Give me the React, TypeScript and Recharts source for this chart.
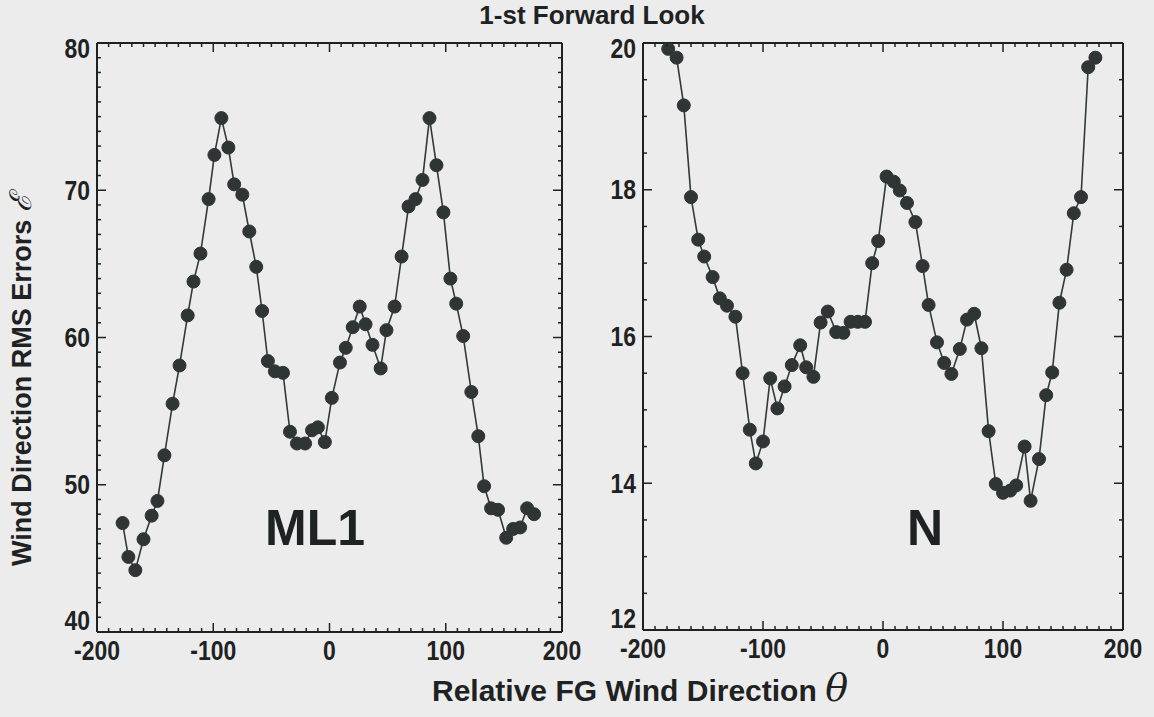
import { LineChart, Line, XAxis, YAxis } from "recharts";

// left panel (ML1)
const leftTheta = [-178, -173, -167, -160, -153, -148, -142, -135, -129, -122, -117, -111, -104, -99, -93, -87, -82, -75, -69, -63, -58, -53, -47, -40, -34, -28, -21, -15, -10, -4, 2, 9, 14, 20, 26, 31, 37, 44, 49, 56, 62, 68, 74, 80, 86, 92, 98, 104, 109, 115, 122, 128, 133, 139, 145, 152, 158, 164, 170, 176];
const leftErr = [47.4, 45.1, 44.2, 46.3, 47.9, 48.9, 52.0, 55.5, 58.1, 61.5, 63.8, 65.7, 69.4, 72.4, 74.9, 72.9, 70.4, 69.7, 67.2, 64.8, 61.8, 58.4, 57.7, 57.6, 53.6, 52.8, 52.8, 53.7, 53.9, 52.9, 55.9, 58.3, 59.3, 60.7, 62.1, 60.9, 59.5, 57.9, 60.5, 62.1, 65.5, 68.9, 69.4, 70.7, 74.9, 71.7, 68.5, 64.0, 62.3, 60.1, 56.3, 53.3, 49.9, 48.4, 48.3, 46.4, 47.0, 47.1, 48.4, 48.0];

// right panel (N)
const rightTheta = [-179, -172, -166, -160, -154, -149, -142, -136, -130, -123, -117, -111, -106, -100, -94, -88, -82, -76, -69, -64, -58, -52, -46, -39, -33, -27, -21, -15, -9, -4, 3, 9, 14, 20, 27, 33, 38, 45, 51, 57, 64, 70, 76, 82, 88, 94, 100, 106, 111, 118, 123, 130, 136, 141, 147, 153, 159, 165, 171, 177];
const rightErr = [19.92, 19.8, 19.15, 17.9, 17.32, 17.09, 16.81, 16.52, 16.42, 16.27, 15.5, 14.73, 14.27, 14.57, 15.43, 15.02, 15.32, 15.61, 15.88, 15.58, 15.45, 16.19, 16.34, 16.06, 16.05, 16.2, 16.2, 16.2, 17.0, 17.3, 18.18, 18.11, 17.99, 17.82, 17.56, 16.96, 16.43, 15.92, 15.64, 15.49, 15.83, 16.23, 16.31, 15.84, 14.71, 13.99, 13.87, 13.9, 13.97, 14.5, 13.76, 14.33, 15.2, 15.51, 16.46, 16.91, 17.68, 17.9, 19.67, 19.8];

const xMajor = [-200, -100, 0, 100, 200];
const leftYMajor = [40, 50, 60, 70, 80];
const rightYMajor = [12, 14, 16, 18, 20];

const range = (a: number, b: number, step: number) => {
  const out: number[] = [];
  for (let v = a; v <= b + 1e-9; v += step) out.push(Math.round(v * 100) / 100);
  return out;
};

const xMinor = range(-200, 200, 10);
const leftYMinor = range(40, 80, 1);
const rightYMinor = range(12, 20, 0.5);

const INK = "#1e2222";
const DOT = "#2f3535";
const TICK_FONT = "'Liberation Sans', Arial, sans-serif";

const isMajor = (v: number, majors: number[]) => majors.some((m) => Math.abs(m - v) < 1e-6);

function makeTick(side: "bottom" | "top" | "left" | "right", majors: number[]) {
  const lo = Math.min(...majors);
  const hi = Math.max(...majors);
  return (props: any) => {
    const { x, y, payload } = props;
    const v = payload.value;
    const major = isMajor(v, majors);
    const len = major ? 9 : 4;
    if (side === "bottom") {
      return (
        <g>
          <line x1={x} y1={y} x2={x} y2={y - len} stroke={INK} strokeWidth={1.5} />
          {major && (
            <text
              transform={`translate(${x},${y + 8}) scale(0.85,1)`}
              textAnchor="middle"
              dominantBaseline="hanging"
              fontFamily={TICK_FONT}
              fontWeight="bold"
              fontSize={27}
              fill={INK}
            >
              {v}
            </text>
          )}
        </g>
      );
    }
    if (side === "top") {
      return <line x1={x} y1={y} x2={x} y2={y + len} stroke={INK} strokeWidth={1.5} />;
    }
    if (side === "left") {
      // end labels are nudged inside the axis span, as in the original figure
      const dy = v === lo ? -12 : v === hi ? 5 : 0;
      return (
        <g>
          <line x1={x} y1={y} x2={x + len} y2={y} stroke={INK} strokeWidth={1.5} />
          {major && (
            <text
              transform={`translate(${x - 7},${y + dy}) scale(0.85,1)`}
              textAnchor="end"
              dominantBaseline="central"
              fontFamily={TICK_FONT}
              fontWeight="bold"
              fontSize={27}
              fill={INK}
            >
              {v}
            </text>
          )}
        </g>
      );
    }
    return <line x1={x} y1={y} x2={x - len} y2={y} stroke={INK} strokeWidth={1.5} />;
  };
}

type PanelProps = {
  theta: number[];
  err: number[];
  yDomain: [number, number];
  yMajor: number[];
  yMinor: number[];
  width: number;
  height: number;
  margin: { top: number; right: number; bottom: number; left: number };
};

function Panel({ theta, err, yDomain, yMajor, yMinor, width, height, margin }: PanelProps) {
  const data = theta.map((t, i) => ({ theta: t, err: err[i] }));
  const axisLine = { stroke: INK, strokeWidth: 2 };
  return (
    <LineChart width={width} height={height} data={data} margin={margin}>
      <XAxis
        xAxisId="b"
        dataKey="theta"
        type="number"
        domain={[-200, 200]}
        allowDataOverflow
        ticks={xMinor}
        interval={0}
        height={1}
        tickSize={0}
        tickMargin={0}
        tickLine={false}
        axisLine={axisLine}
        tick={makeTick("bottom", xMajor)}
      />
      <XAxis
        xAxisId="t"
        orientation="top"
        dataKey="theta"
        type="number"
        domain={[-200, 200]}
        allowDataOverflow
        ticks={xMinor}
        interval={0}
        height={1}
        tickSize={0}
        tickMargin={0}
        tickLine={false}
        axisLine={axisLine}
        tick={makeTick("top", xMajor)}
      />
      <YAxis
        yAxisId="l"
        type="number"
        domain={yDomain}
        allowDataOverflow
        ticks={yMinor}
        interval={0}
        width={1}
        tickSize={0}
        tickMargin={0}
        tickLine={false}
        axisLine={axisLine}
        tick={makeTick("left", yMajor)}
      />
      <YAxis
        yAxisId="r"
        orientation="right"
        type="number"
        domain={yDomain}
        allowDataOverflow
        ticks={yMinor}
        interval={0}
        width={1}
        tickSize={0}
        tickMargin={0}
        tickLine={false}
        axisLine={axisLine}
        tick={makeTick("right", yMajor)}
      />
      <Line
        xAxisId="t"
        yAxisId="r"
        dataKey="err"
        stroke="none"
        dot={false}
        activeDot={false}
        isAnimationActive={false}
      />
      <Line
        xAxisId="b"
        yAxisId="l"
        dataKey="err"
        type="linear"
        stroke="#333838"
        strokeWidth={1.6}
        dot={{ r: 6.5, fill: DOT, stroke: DOT, strokeWidth: 1 }}
        activeDot={false}
        isAnimationActive={false}
      />
    </LineChart>
  );
}

export default function App() {
  const font = "'Liberation Sans', Arial, sans-serif";
  return (
    <div
      style={{
        position: "fixed",
        left: 0,
        top: 0,
        width: 1154,
        height: 717,
        background: "#ececec",
        overflow: "hidden",
      }}
    >
      <div style={{ position: "absolute", left: 0, top: 0 }}>
        <Panel
          theta={leftTheta}
          err={leftErr}
          yDomain={[40, 80]}
          yMajor={leftYMajor}
          yMinor={leftYMinor}
          width={600}
          height={700}
          margin={{ top: 42, right: 37, bottom: 67, left: 96 }}
        />
      </div>
      <div style={{ position: "absolute", left: 600, top: 0 }}>
        <Panel
          theta={rightTheta}
          err={rightErr}
          yDomain={[12, 20]}
          yMajor={rightYMajor}
          yMinor={rightYMinor}
          width={554}
          height={700}
          margin={{ top: 42, right: 30, bottom: 69, left: 42 }}
        />
      </div>
      <svg
        width={1154}
        height={717}
        style={{ position: "absolute", left: 0, top: 0, pointerEvents: "none" }}
      >
        <text x={592} y={24} textAnchor="middle" fontFamily={font} fontWeight="bold" fontSize={26} fill={INK}>
          1-st Forward Look
        </text>
        <text
          transform="translate(31,380) rotate(-90)"
          textAnchor="middle"
          fontFamily={font}
          fontWeight="bold"
          fontSize={27}
          fill={INK}
        >
          Wind Direction RMS Errors{" "}
          <tspan fontFamily="'DejaVu Serif', serif" fontStyle="italic" fontWeight="normal" fontSize={30}>
            ℰ
          </tspan>
        </text>
        <text x={640} y={701} textAnchor="middle" fontFamily={font} fontWeight="bold" fontSize={30} fill={INK}>
          Relative FG Wind Direction{" "}
          <tspan fontFamily="'DejaVu Serif', serif" fontStyle="italic" fontWeight="normal" fontSize={38}>
            θ
          </tspan>
        </text>
        <text x={315} y={545} textAnchor="middle" fontFamily={font} fontWeight="bold" fontSize={50} fill={INK}>
          ML1
        </text>
        <text x={925} y={545} textAnchor="middle" fontFamily={font} fontWeight="bold" fontSize={50} fill={INK}>
          N
        </text>
      </svg>
    </div>
  );
}
